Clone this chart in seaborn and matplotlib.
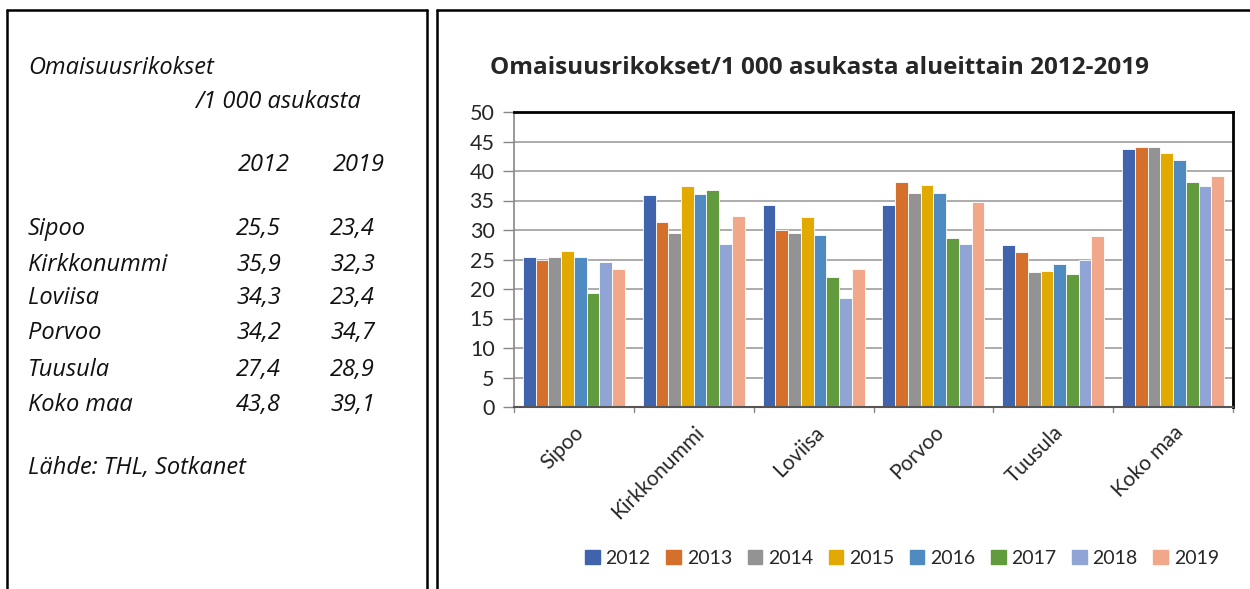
import matplotlib
matplotlib.use("Agg")
import matplotlib.pyplot as plt
import matplotlib.patches as mpatches
import matplotlib.lines as mlines
import seaborn as sns
import pandas as pd

areas = ["Sipoo", "Kirkkonummi", "Loviisa", "Porvoo", "Tuusula", "Koko maa"]
years = ["2012", "2013", "2014", "2015", "2016", "2017", "2018", "2019"]

v2012 = [25.5, 35.9, 34.3, 34.2, 27.4, 43.8]
v2013 = [25.0, 31.4, 30.0, 38.2, 26.2, 44.1]
v2014 = [25.5, 29.5, 29.5, 36.2, 22.9, 44.1]
v2015 = [26.4, 37.5, 32.2, 37.7, 23.0, 43.1]
v2016 = [25.5, 36.1, 29.2, 36.2, 24.3, 41.8]
v2017 = [19.3, 36.8, 22.1, 28.6, 22.6, 38.1]
v2018 = [24.6, 27.7, 18.4, 27.7, 24.9, 37.5]
v2019 = [23.4, 32.3, 23.4, 34.7, 28.9, 39.1]

colors = ["#3F64AD", "#D46F2C", "#939393", "#E2AA00", "#4F8BC0", "#629B3E", "#90A5D5", "#F1A78A"]

series = [v2012, v2013, v2014, v2015, v2016, v2017, v2018, v2019]
rows = []
for y, vals in zip(years, series):
    for a, v in zip(areas, vals):
        rows.append({"alue": a, "vuosi": y, "arvo": v})
df = pd.DataFrame(rows)

sns.set_style("white")
plt.rcParams["font.family"] = ["Lato", "DejaVu Sans"]

W, H = 1250, 589
fig = plt.figure(figsize=(12.5, 5.89), dpi=100)

def fx(px):
    return px / W

def fy(py):
    return 1 - py / H

# panel borders
for x0, x1, y0, y1 in [(7, 427, 10, 600), (437, 1260, 10, 600)]:
    fig.add_artist(mlines.Line2D([fx(x0), fx(x0)], [fy(y0), fy(y1)], color="black", lw=1.8))
    fig.add_artist(mlines.Line2D([fx(x0), fx(x1)], [fy(y0), fy(y0)], color="black", lw=1.8))
    fig.add_artist(mlines.Line2D([fx(x1), fx(x1)], [fy(y0), fy(y1)], color="black", lw=1.8))

# left text panel
tkw = dict(fontsize=17, style="italic", color="#111111", va="center",
           family=["Open Sans", "DejaVu Sans"])
fig.text(fx(28), fy(68), "Omaisuusrikokset", **tkw)
fig.text(fx(195), fy(102), "/1 000 asukasta", **tkw)
fig.text(fx(238), fy(165), "2012", **tkw)
fig.text(fx(333), fy(165), "2019", **tkw)
row_y = [229, 265, 298, 333, 370, 405]
for a, a12, a19, ry in zip(areas, v2012, v2019, row_y):
    fig.text(fx(28), fy(ry), a, **tkw)
    fig.text(fx(236), fy(ry), f"{a12:.1f}".replace(".", ","), **tkw)
    fig.text(fx(330), fy(ry), f"{a19:.1f}".replace(".", ","), **tkw)
fig.text(fx(28), fy(468), "Lähde: THL, Sotkanet", **tkw)

# chart
ax = fig.add_axes([fx(514), fy(407), fx(1233) - fx(514), fy(112) - fy(407)])
sns.barplot(data=df, x="alue", y="arvo", hue="vuosi", palette=colors, width=0.85,
            saturation=1, edgecolor="white", linewidth=0.6, ax=ax, legend=True)

ax.set_ylim(0, 50)
ax.set_xlim(-0.5, len(areas) - 0.5)
ax.set_yticks(range(0, 51, 5))
ax.yaxis.grid(True, color="#A6A6A6", lw=1.3)
ax.set_axisbelow(True)
ax.set_xlabel("")
ax.set_ylabel("")
ax.tick_params(axis="y", labelsize=15.5, length=8, width=1, color="#888888", left=True, pad=6)
ax.set_xticks(range(len(areas)))
ax.set_xticklabels(areas, rotation=45, ha="right", rotation_mode="anchor", fontsize=15)
ax.tick_params(axis="x", length=0, pad=11)
for b in [i - 0.5 for i in range(len(areas) + 1)]:
    ax.plot([b, b], [0, -0.9], color="#888888", lw=1, clip_on=False)
ax.spines["left"].set_color("#888888")
ax.spines["left"].set_linewidth(1.2)
ax.spines["bottom"].set_color("#555555")
ax.spines["bottom"].set_linewidth(1.5)
ax.spines["top"].set_color("black")
ax.spines["top"].set_linewidth(2)
ax.spines["right"].set_color("black")
ax.spines["right"].set_linewidth(2)

fig.text(fx(820), fy(68), "Omaisuusrikokset/1 000 asukasta alueittain 2012-2019",
         fontsize=17.5, fontweight="bold", ha="center", va="center",
         family=["Open Sans", "DejaVu Sans"])

handles = [mpatches.Patch(color=c, label=y) for c, y in zip(colors, years)]
ax.get_legend().remove()
fig.legend(handles=handles, loc="center", bbox_to_anchor=(fx(902), fy(558)), ncol=8,
           frameon=False, fontsize=14, handlelength=0.75, handleheight=0.75,
           handletextpad=0.3, columnspacing=0.8)

fig.savefig("out.png", dpi=100)
